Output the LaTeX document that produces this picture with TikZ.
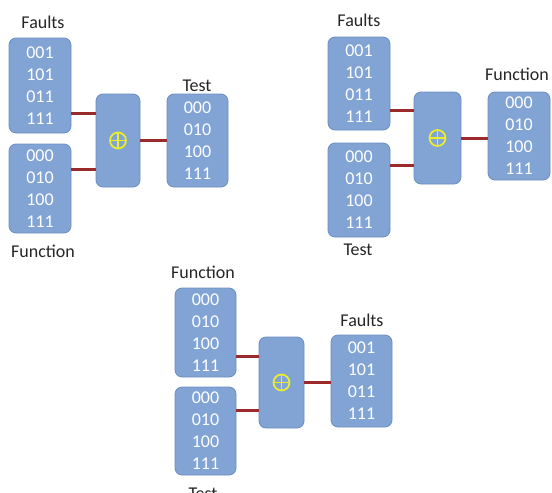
\documentclass[tikz,border=0pt]{standalone}
\usepackage{fontspec}
\setmainfont{Carlito}
\usetikzlibrary{calc}
\definecolor{boxfill}{RGB}{129,164,213}
\definecolor{boxline}{RGB}{108,142,192}
\definecolor{conn}{RGB}{155,42,42}
\definecolor{xoryel}{RGB}{238,238,40}
\tikzset{
  databox/.style={draw=boxline, line width=0.8pt, fill=boxfill, rounded corners=7pt,
    text=white, align=center, inner sep=0pt, font=\fontsize{18}{22}\selectfont},
  xorbox/.style={draw=boxline, line width=0.8pt, fill=boxfill, rounded corners=7pt, inner sep=0pt},
  lbl/.style={anchor=base, inner sep=0pt, font=\fontsize{18}{22}\selectfont, text=black!85},
  wire/.style={draw=conn, line width=3pt},
  xorsym/.style={circle, draw=xoryel, line width=1.7pt, minimum size=16pt, inner sep=0pt,
    path picture={\draw[xoryel, line width=1.7pt]
      (path picture bounding box.north) -- (path picture bounding box.south)
      (path picture bounding box.west) -- (path picture bounding box.east);}}
}
\begin{document}
\begin{tikzpicture}[x=1pt,y=-1pt]
\useasboundingbox (0,0) rectangle (552,493);
\fill[white] (0,0) rectangle (552,493);

% ---------- Diagram 1 ----------
\node[databox, minimum width=62pt, minimum height=95pt] (a1) at (40,85.5) {001\\101\\011\\111};
\node[databox, minimum width=62pt, minimum height=89pt] (b1) at (40,188.5) {000\\010\\100\\111};
\node[xorbox, minimum width=44pt, minimum height=93pt] (x1) at (118,140.5) {};
\node[databox, minimum width=61pt, minimum height=93pt] (t1) at (197.5,140.5) {000\\010\\100\\111};
\node[xorsym] (s1) at (x1.center) {};
\node[lbl] (la1) at (43,28) {Faults};
\node[lbl] (lb1) at (43,257) {Function};
\node[lbl] (lt1) at (197,91) {Test};
\coordinate (p1u) at ($(x1.north west)!0.215!(x1.south west)$);
\coordinate (p1d) at ($(x1.north west)!0.805!(x1.south west)$);
\draw[wire] (a1.east |- p1u) -- (p1u);
\draw[wire] (b1.east |- p1d) -- (p1d);
\draw[wire] (x1.east) -- (t1.west);

% ---------- Diagram 2 ----------
\node[databox, minimum width=62pt, minimum height=93pt] (a2) at (359,83.5) {001\\101\\011\\111};
\node[databox, minimum width=62pt, minimum height=94pt] (b2) at (359,190) {000\\010\\100\\111};
\node[xorbox, minimum width=47pt, minimum height=92pt] (x2) at (437.5,138) {};
\node[databox, minimum width=62pt, minimum height=88pt] (f2) at (519,136) {000\\010\\100\\111};
\node[xorsym] (s2) at (x2.center) {};
\node[lbl] (la2) at (359,26) {Faults};
\node[lbl] (lb2) at (358,255) {Test};
\node[lbl] (lf2) at (517,80) {Function};
\coordinate (p2u) at ($(x2.north west)!0.207!(x2.south west)$);
\coordinate (p2d) at ($(x2.north west)!0.80!(x2.south west)$);
\draw[wire] (a2.east |- p2u) -- (p2u);
\draw[wire] (b2.east |- p2d) -- (p2d);
\draw[wire] (x2.east) -- (x2.east -| f2.west);

% ---------- Diagram 3 ----------
\node[databox, minimum width=61pt, minimum height=89pt] (a3) at (205.5,332.5) {000\\010\\100\\111};
\node[databox, minimum width=61pt, minimum height=88pt] (b3) at (205.5,431) {000\\010\\100\\111};
\node[xorbox, minimum width=45pt, minimum height=91pt] (x3) at (281.5,382.5) {};
\node[databox, minimum width=61pt, minimum height=92pt] (f3) at (361.5,381) {001\\101\\011\\111};
\node[xorsym] (s3) at (x3.center) {};
\node[lbl] (la3) at (203,278) {Function};
\node[lbl] (lf3) at (362,326) {Faults};
\node[lbl] (lb3) at (203,499) {Test};
\coordinate (p3u) at ($(x3.north west)!0.22!(x3.south west)$);
\coordinate (p3d) at ($(x3.north west)!0.80!(x3.south west)$);
\draw[wire] (a3.east |- p3u) -- (p3u);
\draw[wire] (b3.east |- p3d) -- (p3d);
\draw[wire] (x3.east) -- (x3.east -| f3.west);
\end{tikzpicture}
\end{document}
